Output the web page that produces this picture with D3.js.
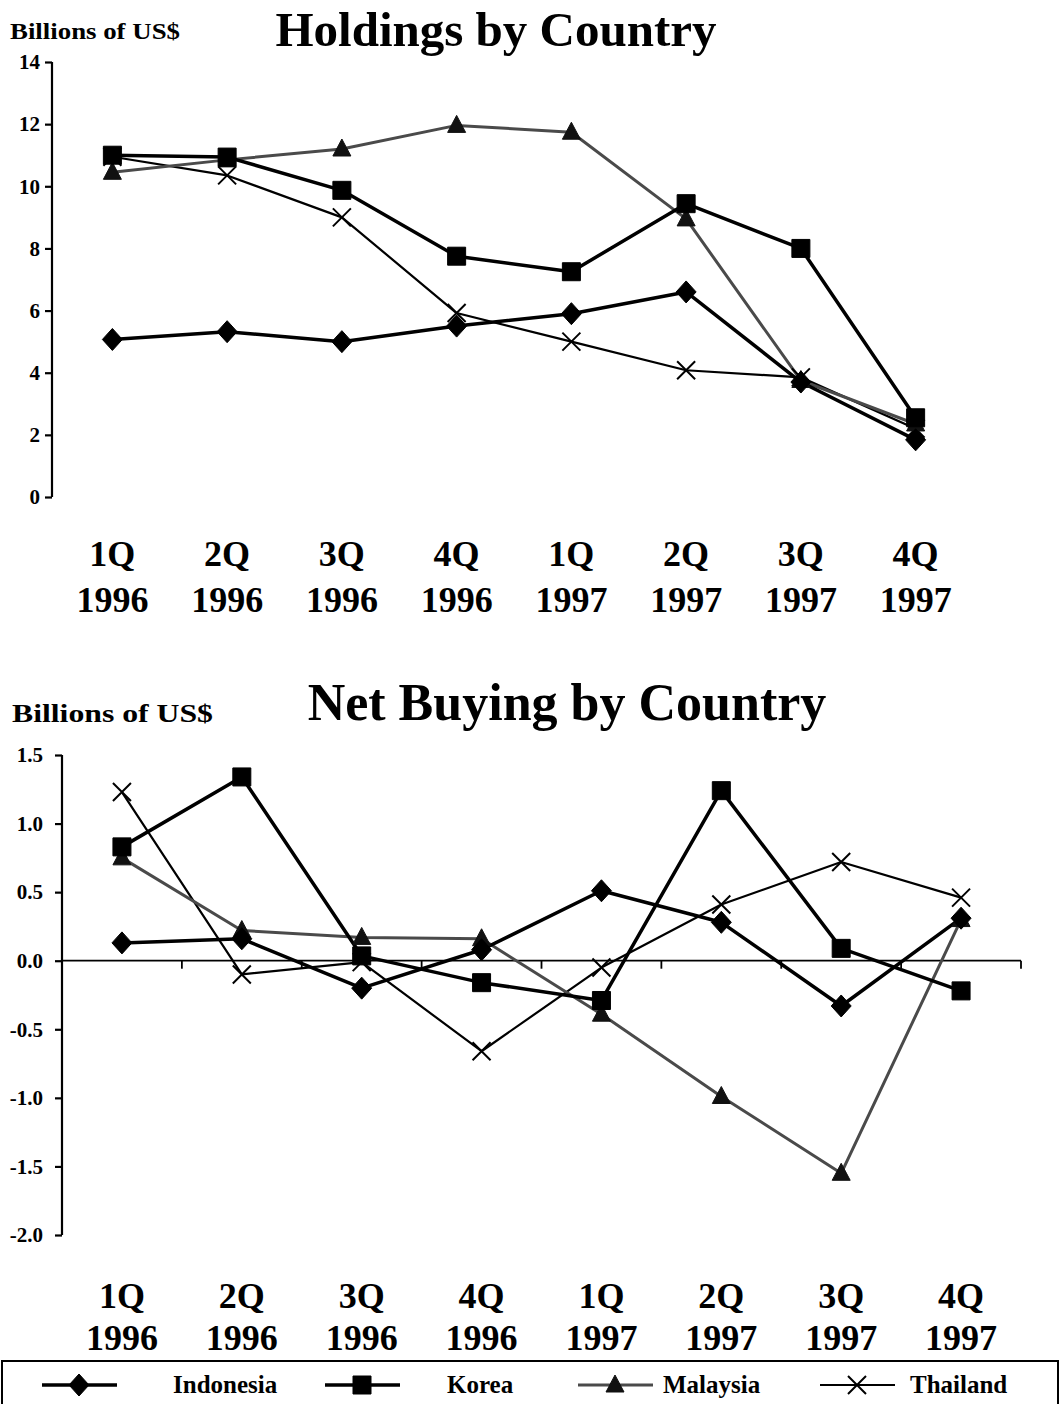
<!DOCTYPE html>
<html><head><meta charset="utf-8">
<script src="https://cdn.jsdelivr.net/npm/d3@7"></script>
<style>
body{margin:0;background:#fff}
text{font-family:"Liberation Serif","Times New Roman",serif;font-weight:bold;fill:#000}
</style>
</head><body><svg id="c" width="1062" height="1404"></svg>
<script>
const quarters = ["1Q","2Q","3Q","4Q","1Q","2Q","3Q","4Q"];
const years = ["1996","1996","1996","1996","1997","1997","1997","1997"];
const categories = quarters.map((q,i)=>q+" "+years[i]);
const countries = ["Indonesia","Korea","Malaysia","Thailand"];

const holdingsIndonesia = [5.07,5.32,5.0,5.5,5.9,6.6,3.7,1.84];
const holdingsKorea     = [11.0,10.94,9.87,7.75,7.25,9.44,8.0,2.55];
const holdingsMalaysia  = [10.45,10.85,11.2,11.96,11.74,8.95,3.75,2.35];
const holdingsThailand  = [10.95,10.35,9.0,5.92,5.0,4.08,3.85,2.2];

const netIndonesia = [0.13,0.16,-0.2,0.08,0.51,0.28,-0.33,0.31];
const netKorea     = [0.83,1.34,0.035,-0.16,-0.29,1.24,0.09,-0.22];
const netMalaysia  = [0.75,0.22,0.17,0.16,-0.39,-0.99,-1.55,0.3];
const netThailand  = [1.23,-0.1,-0.01,-0.66,-0.05,0.41,0.72,0.46];

const holdingsTicks = [0,2,4,6,8,10,12,14];
const netTicks = [-2.0,-1.5,-1.0,-0.5,0.0,0.5,1.0,1.5];

const styles = {
  Indonesia:{stroke:"#000",width:3.5,marker:"diamond",fill:"#000"},
  Korea:{stroke:"#000",width:3.5,marker:"square",fill:"#000"},
  Malaysia:{stroke:"#4a4a4a",width:3,marker:"triangle",fill:"#111"},
  Thailand:{stroke:"#000",width:2.2,marker:"cross",fill:"none"}
};
const markerPath = {
  diamond:"M0,-11L10,0L0,11L-10,0Z",
  square:"M-9,-9H9V9H-9Z",
  triangle:"M0,-10L9,7L-9,7Z",
  cross:"M-9,-9L9,9M9,-9L-9,9"
};

const svg = d3.select("#c");

function drawMarker(g, name, x, y){
  const s = styles[name];
  const p = g.append("path").attr("d", markerPath[s.marker]).attr("transform",`translate(${x},${y})`);
  if (s.marker==="cross") p.attr("fill","none").attr("stroke","#000").attr("stroke-width",2);
  else p.attr("fill", s.fill).attr("stroke", s.fill).attr("stroke-width",1);
}

function chart(opts){
  const g = svg.append("g");
  const x = d3.scaleBand().domain(categories).range(opts.xRange);
  const y = d3.scaleLinear().domain(opts.domain).range(opts.yRange);
  const cx = c => x(c) + x.bandwidth()/2;

  const ax = g.append("g").attr("transform",`translate(${opts.axisX},0)`)
    .call(d3.axisLeft(y).tickValues(opts.ticks).tickSize(7).tickPadding(opts.pad).tickFormat(opts.fmt));
  ax.select(".domain").attr("stroke","#000").attr("stroke-width",2.2).attr("d",`M0,${opts.yRange[0]}V${opts.yRange[1]}`);
  ax.selectAll(".tick line").attr("stroke","#000").attr("stroke-width",2.2);
  ax.selectAll(".tick text").style("font-size",opts.tickFont+"px").attr("font-family",null).attr("font-size",null);

  if (opts.zeroLine){
    const z = y(0);
    g.append("line").attr("x1",opts.axisX).attr("x2",opts.xRange[1]).attr("y1",z).attr("y2",z)
      .attr("stroke","#000").attr("stroke-width",1.8);
    categories.forEach((c,i)=>{
      const bx = x(c)+x.bandwidth();
      g.append("line").attr("x1",bx).attr("x2",bx).attr("y1",z).attr("y2",z+8).attr("stroke","#000").attr("stroke-width",1.8);
    });
  }

  categories.forEach((c,i)=>{
    g.append("text").attr("x",cx(c)).attr("y",opts.labelY1).attr("text-anchor","middle").style("font-size","36px").text(quarters[i]);
    g.append("text").attr("x",cx(c)).attr("y",opts.labelY2).attr("text-anchor","middle").style("font-size","36px").text(years[i]);
  });

  const line = d3.line().x((d,i)=>cx(categories[i])).y(d=>y(d));
  const order = ["Thailand","Malaysia","Indonesia","Korea"];
  order.forEach(name=>{
    const s = styles[name];
    g.append("path").datum(opts.series[name]).attr("d",line).attr("fill","none")
      .attr("stroke",s.stroke).attr("stroke-width",s.width).attr("stroke-linejoin","round");
  });
  order.forEach(name=>{
    opts.series[name].forEach((v,i)=>drawMarker(g,name,cx(categories[i]),y(v)));
  });

  g.append("text").attr("x",opts.unitX).attr("y",opts.unitY).style("font-size",opts.unitFont+"px")
    .attr("textLength",opts.unitLen).attr("lengthAdjust","spacingAndGlyphs").text("Billions of US$");
  g.append("text").attr("x",opts.titleX).attr("y",opts.titleY).attr("text-anchor","middle")
    .style("font-size",opts.titleFont+"px").text(opts.title);
}

chart({
  title:"Holdings by Country", titleX:496, titleY:46, titleFont:49,
  unitX:10, unitY:39, unitFont:23, unitLen:170,
  xRange:[55,973], axisX:52, domain:[0,14], yRange:[497,62],
  ticks:holdingsTicks, fmt:d=>String(d), tickFont:21, pad:5,
  labelY1:566, labelY2:612,
  series:{Indonesia:holdingsIndonesia,Korea:holdingsKorea,Malaysia:holdingsMalaysia,Thailand:holdingsThailand}
});

chart({
  title:"Net Buying by Country", titleX:567, titleY:720, titleFont:52,
  unitX:12, unitY:722, unitFont:26, unitLen:201,
  xRange:[62,1021], axisX:62, domain:[-2,1.5], yRange:[1235,755],
  ticks:netTicks, fmt:d=>d.toFixed(1), tickFont:21, pad:12, zeroLine:true,
  labelY1:1308, labelY2:1350,
  series:{Indonesia:netIndonesia,Korea:netKorea,Malaysia:netMalaysia,Thailand:netThailand}
});

const lg = svg.append("g");
lg.append("rect").attr("x",2).attr("y",1361).attr("width",1056).attr("height",60).attr("fill","none").attr("stroke","#000").attr("stroke-width",2);
const legendPos = [{lx:42,tx:173},{lx:325,tx:447},{lx:578,tx:663},{lx:820,tx:910}];
countries.forEach((name,i)=>{
  const s = styles[name];
  const p = legendPos[i];
  lg.append("line").attr("x1",p.lx).attr("x2",p.lx+75).attr("y1",1385).attr("y2",1385)
    .attr("stroke",s.stroke).attr("stroke-width",s.width);
  drawMarker(lg,name,p.lx+37,1385);
  lg.append("text").attr("x",p.tx).attr("y",1393).style("font-size","25px").text(name);
});
</script></body></html>
